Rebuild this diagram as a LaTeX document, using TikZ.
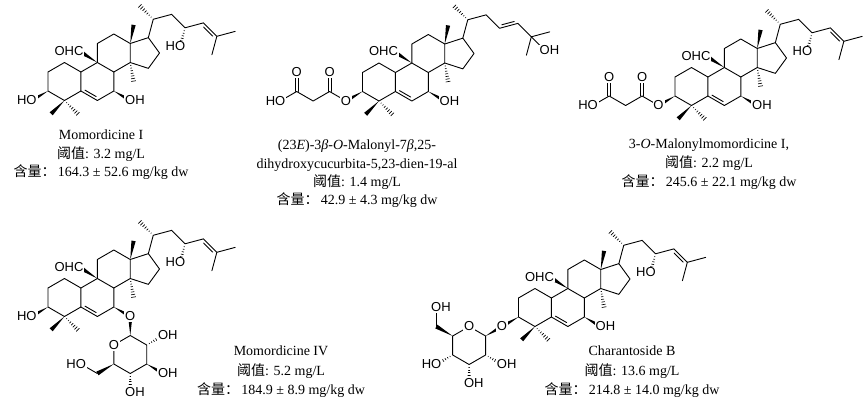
\documentclass[tikz,border=0pt]{standalone}
\usepackage{fontspec}
\setmainfont{Liberation Serif}
\newfontfamily\cjk{Noto Sans CJK SC}
\newfontfamily\chemfont{Liberation Sans}
\usetikzlibrary{calc}

\newcommand\wbold[2]{\fill (#1) -- ($(#1)!1!6.5:(#2)$) -- ($(#1)!1!-6.5:(#2)$) -- cycle;}
\newcommand\whash[2]{\foreach \hh in {0.16,0.30,...,1.0}{\draw[hashline] ($(#1)!\hh!6.5:(#2)$) -- ($(#1)!\hh!-6.5:(#2)$);}}
\newcommand\dbin[4]{\draw ($(#1)!0.16!(#2)!2.8pt!#3:(#2)$) -- ($(#2)!0.16!(#1)!2.8pt!#4:(#1)$);}
\newcommand\dbc[2]{\draw ($(#1)!1.5pt!90:(#2)$) -- ($(#2)!1.5pt!-90:(#1)$); \draw ($(#1)!1.5pt!-90:(#2)$) -- ($(#2)!1.5pt!90:(#1)$);}

\newcommand\coreatoms{%
\coordinate (C3) at (0,0);
\coordinate (C2) at (0,1);
\coordinate (C1) at (0.866,1.5);
\coordinate (C10) at (1.732,1);
\coordinate (C5) at (1.732,0);
\coordinate (C4) at (0.866,-0.5);
\coordinate (C9) at (2.598,1.5);
\coordinate (C6) at (2.598,-0.5);
\coordinate (C8) at (3.464,1);
\coordinate (C7) at (3.464,0);
\coordinate (C11) at (2.598,2.5);
\coordinate (C12) at (3.464,3);
\coordinate (C13) at (4.330,2.5);
\coordinate (C14) at (4.330,1.5);
\coordinate (C17) at (5.281,2.809);
\coordinate (C16) at (5.869,2.0);
\coordinate (C15) at (5.281,1.191);
\coordinate (C20) at (5.540,3.775);
\coordinate (C21) at (4.833,4.482);
\coordinate (C22) at (6.506,4.034);
\coordinate (C23) at (7.213,3.327);
\coordinate (C24) at (8.179,3.586);
\coordinate (C25) at (8.886,2.879);
\coordinate (C26) at (9.852,3.138);
\coordinate (C27) at (8.627,1.913);
\coordinate (O3) at (-0.866,-0.5);
\coordinate (O7) at (4.330,-0.5);
\coordinate (M4a) at (0.159,-1.207);
\coordinate (M4b) at (1.573,-1.207);
\coordinate (C19) at (1.62,2.12);
\coordinate (C18) at (4.504,3.485);
\coordinate (C30) at (4.504,0.515);
}

\newcommand\coredraw{%
\draw (C3)--(C2)--(C1)--(C10)--(C5)--(C4)--cycle;
\draw (C10)--(C9)--(C8)--(C7)--(C6)--(C5);
\draw (C9)--(C11)--(C12)--(C13)--(C14)--(C8);
\draw (C13)--(C17)--(C16)--(C15)--(C14);
\dbin{C5}{C6}{90}{-90}
\wbold{C4}{M4a}\whash{C4}{M4b}
\wbold{C9}{C19}\wbold{C13}{C18}\whash{C14}{C30}
\wbold{C3}{O3}\wbold{C7}{O7}
\draw (C17)--(C20)--(C22)--(C23)--(C24)--(C25)--(C26);
\draw (C25)--(C27);
\whash{C20}{C21}
}

\newcommand\chainA{%
\coordinate (O23) at (6.954,2.361);
\dbin{C24}{C25}{-90}{90}
\whash{C23}{O23}
}
\newcommand\chainAlabel{\node[atom] at (O23) {\llap{H}O};}

\newcommand\chainB{%
\coordinate (O25) at (9.593,2.172);
\dbin{C23}{C24}{90}{-90}
\draw (C25)--(O25);
}

\newcommand\malonyl{%
\coordinate (Ce) at (-1.732,0);
\coordinate (Oe) at (-1.732,1);
\coordinate (Cm) at (-2.598,-0.5);
\coordinate (Ca) at (-3.464,0);
\coordinate (Oa) at (-3.464,1);
\coordinate (Oh) at (-4.330,-0.5);
\draw (O3)--(Ce)--(Cm)--(Ca)--(Oh);
\dbc{Ce}{Oe}\dbc{Ca}{Oa}
}
\newcommand\malonyllabel{%
\node[atom] at (Oe) {O};
\node[atom] at (Oa) {O};
\node[atom] at (Oh) {\llap{H}O};
}

\begin{document}
\begin{tikzpicture}[x=1pt,y=-1pt,line width=0.9pt,line cap=round,line join=round,
  hashline/.style={line width=0.65pt},
  atom/.style={font=\chemfont\fontsize{13}{13}\selectfont,inner sep=0.9pt,fill=white},
  captext/.style={font=\fontsize{14}{16}\selectfont,anchor=base,inner sep=0pt}]
\useasboundingbox (0,0) rectangle (865,408);

% ---------- Molecule 1: Momordicine I ----------
\begin{scope}[shift={(48,91)},x={(19pt,0pt)},y={(0pt,19pt)}]
\coreatoms
\coredraw
\chainA
\node[atom] at (O3) {\llap{H}O};
\node[atom] at (O7) {O\rlap{H}};
\node[atom] at (C19) {\llap{OH}C};
\chainAlabel
\end{scope}
\node[captext] (t1a) at (101,139.5) {Momordicine I};
\node[captext] (t1b) at (101,158) {{\cjk 阈值}: 3.2 mg/L};
\node[captext] (t1c) at (101,176.5) {{\cjk 含量：}\,164.3 ± 52.6 mg/kg dw};

% ---------- Molecule 2 ----------
\begin{scope}[shift={(362.5,91.5)},x={(19pt,0pt)},y={(0pt,19pt)}]
\coreatoms
\coredraw
\chainB
\malonyl
\node[atom] at (O3) {O};
\node[atom] at (O7) {O\rlap{H}};
\node[atom] at (C19) {\llap{OH}C};
\node[atom] at (O25) {O\rlap{H}};
\malonyllabel
\end{scope}
\node[captext] (t2a) at (357,149.5) {(23\textit{E})-3\textit{β}-\textit{O}-Malonyl-7\textit{β},25-};
\node[captext] (t2b) at (357,168) {dihydroxycucurbita-5,23-dien-19-al};
\node[captext] (t2c) at (357,186) {{\cjk 阈值}: 1.4 mg/L};
\node[captext] (t2d) at (357,204.5) {{\cjk 含量：}\,42.9 ± 4.3 mg/kg dw};

% ---------- Molecule 3 ----------
\begin{scope}[shift={(675,96)},x={(19pt,0pt)},y={(0pt,19pt)}]
\coreatoms
\coredraw
\chainA
\malonyl
\node[atom] at (O3) {O};
\node[atom] at (O7) {O\rlap{H}};
\node[atom] at (C19) {\llap{OH}C};
\chainAlabel
\malonyllabel
\end{scope}
\node[captext] (t3a) at (709,148.5) {3-\textit{O}-Malonylmomordicine I,};
\node[captext] (t3b) at (709,167.5) {{\cjk 阈值}: 2.2 mg/L};
\node[captext] (t3c) at (709,186) {{\cjk 含量：}\,245.6 ± 22.1 mg/kg dw};

% ---------- Molecule 4: Momordicine IV ----------
\begin{scope}[shift={(48,307)},x={(19pt,0pt)},y={(0pt,19pt)}]
\coreatoms
\coredraw
\chainA
\coordinate (G1) at (4.330,-1.5);
\coordinate (G2) at (5.196,-2.0);
\coordinate (G3) at (5.196,-3.0);
\coordinate (G4) at (4.330,-3.5);
\coordinate (G5) at (3.464,-3.0);
\coordinate (GO) at (3.464,-2.0);
\coordinate (GO2) at (6.062,-1.5);
\coordinate (GO3) at (6.062,-3.5);
\coordinate (GO4) at (4.330,-4.5);
\coordinate (G6) at (2.598,-3.5);
\coordinate (GO6) at (1.732,-3.0);
\draw (G1)--(G2)--(G3)--(G4)--(G5)--(GO)--cycle;
\wbold{G1}{O7}
\whash{G2}{GO2}\wbold{G3}{GO3}\whash{G4}{GO4}\wbold{G5}{G6}
\draw (G6)--(GO6);
\node[atom] at (O3) {\llap{H}O};
\node[atom] at (O7) {O};
\node[atom] at (C19) {\llap{OH}C};
\chainAlabel
\node[atom] at (GO) {O};
\node[atom] at (GO2) {O\rlap{H}};
\node[atom] at (GO3) {O\rlap{H}};
\node[atom] at (GO4) {O\rlap{H}};
\node[atom] at (GO6) {\llap{H}O};
\end{scope}
\node[captext] (t4a) at (281,355.5) {Momordicine IV};
\node[captext] (t4b) at (281,375) {{\cjk 阈值}: 5.2 mg/L};
\node[captext] (t4c) at (281,394.5) {{\cjk 含量：}\,184.9 ± 8.9 mg/kg dw};

% ---------- Molecule 5: Charantoside B ----------
\begin{scope}[shift={(518.5,317)},x={(19pt,0pt)},y={(0pt,19pt)}]
\coreatoms
\coredraw
\chainA
\coordinate (G1) at (-1.732,-1.0);
\coordinate (GO) at (-2.598,-0.5);
\coordinate (G5) at (-3.464,-1.0);
\coordinate (G4) at (-3.464,-2.0);
\coordinate (G3) at (-2.598,-2.5);
\coordinate (G2) at (-1.732,-2.0);
\coordinate (GO2) at (-0.866,-2.5);
\coordinate (GO3) at (-2.598,-3.5);
\coordinate (GO4) at (-4.330,-2.5);
\coordinate (G6) at (-4.330,-0.5);
\coordinate (GO6) at (-4.330,0.5);
\draw (G1)--(GO)--(G5)--(G4)--(G3)--(G2)--cycle;
\wbold{G1}{O3}
\whash{G2}{GO2}\whash{G3}{GO3}\whash{G4}{GO4}\wbold{G5}{G6}
\draw (G6)--(GO6);
\node[atom] at (O3) {O};
\node[atom] at (O7) {O\rlap{H}};
\node[atom] at (C19) {\llap{OH}C};
\chainAlabel
\node[atom] at (GO) {O};
\node[atom] at (GO2) {O\rlap{H}};
\node[atom] at (GO3) {O\rlap{H}};
\node[atom] at (GO4) {\llap{H}O};
\node[atom] at (GO6) {O\rlap{H}};
\end{scope}
\node[captext] (t5a) at (632,355.5) {Charantoside B};
\node[captext] (t5b) at (632,375) {{\cjk 阈值}: 13.6 mg/L};
\node[captext] (t5c) at (632,394.5) {{\cjk 含量：}\,214.8 ± 14.0 mg/kg dw};
\end{tikzpicture}
\end{document}
